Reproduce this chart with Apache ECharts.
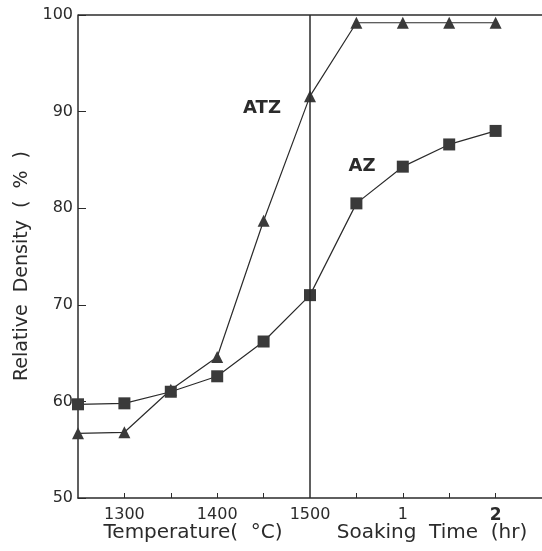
<!DOCTYPE html>
<html>
<head>
<meta charset="utf-8">
<script src="https://cdn.jsdelivr.net/npm/echarts@6/dist/echarts.min.js"></script>
<style>
  html, body { margin: 0; padding: 0; background: #fff; }
  #chart { width: 542px; height: 551px; }
</style>
</head>
<body>
<div id="chart"></div>
<script>
// x positions: 0..5 = 1250..1500 C, 6..9 = 0.5..2 hr soaking
const positions = [0, 1, 2, 3, 4, 5, 6, 7, 8, 9]
const atz = [56.7, 56.8, 61.2, 64.6, 78.7, 91.6, 99.2, 99.2, 99.2, 99.2]
const az = [59.7, 59.8, 61.0, 62.6, 66.2, 71.0, 80.5, 84.3, 86.6, 88.0]
const xTickLabels = { 1: '1300', 3: '1400', 5: '1500', 7: '1', 9: '{b|2}' }
const yTicks = [50, 60, 70, 80, 90, 100]

const ink = '#2b2b2b'
const font = 'DejaVu Sans'

const chart = echarts.init(document.getElementById('chart'))

const toPairs = (vals) => positions.map((p, i) => [p, vals[i]])

const option = {
  animation: false,
  grid: { left: 78, top: 15, right: -6, bottom: 53 },
  xAxis: {
    type: 'value',
    min: 0,
    max: 10,
    interval: 1,
    axisLine: { lineStyle: { color: ink, width: 1.5 } },
    axisTick: {
      inside: true,
      length: 5,
      lineStyle: { color: ink },
      customValues: [1, 2, 3, 4, 6, 7, 8, 9]
    },
    axisLabel: {
      color: ink,
      fontFamily: font,
      fontSize: 16,
      margin: 9,
      customValues: [1, 3, 5, 7, 9],
      formatter: (v) => xTickLabels[v] || '',
      rich: { b: { fontWeight: 'bold', fontSize: 17, fontFamily: font, color: ink } }
    },
    splitLine: { show: false }
  },
  yAxis: {
    type: 'value',
    min: yTicks[0],
    max: yTicks[yTicks.length - 1],
    interval: 10,
    axisLine: { show: true, lineStyle: { color: ink, width: 1.5 } },
    axisTick: { show: true, inside: true, length: 8, lineStyle: { color: ink } },
    axisLabel: { color: ink, fontFamily: font, fontSize: 16, margin: 5 },
    splitLine: { show: false }
  },
  graphic: [
    {
      type: 'text', x: 22, y: 266, rotation: Math.PI / 2,
      style: { text: 'Relative  Density  (  %  )', fill: ink, font: '19px ' + font, align: 'center', verticalAlign: 'middle' }
    },
    {
      type: 'text', x: 193, y: 533,
      style: { text: 'Temperature(  °C)', fill: ink, font: '20px ' + font, align: 'center', verticalAlign: 'middle' }
    },
    {
      type: 'text', x: 432, y: 533,
      style: { text: 'Soaking  Time  (hr)', fill: ink, font: '20px ' + font, align: 'center', verticalAlign: 'middle' }
    },
    {
      type: 'text', x: 262, y: 108,
      style: { text: 'ATZ', fill: ink, font: 'bold 18px ' + font, align: 'center', verticalAlign: 'middle' }
    },
    {
      type: 'text', x: 362, y: 166,
      style: { text: 'AZ', fill: ink, font: 'bold 18px ' + font, align: 'center', verticalAlign: 'middle' }
    }
  ],
  series: [
    {
      name: 'ATZ',
      type: 'line',
      data: toPairs(atz),
      symbol: 'triangle',
      symbolSize: 12,
      itemStyle: { color: '#3a3a3a' },
      lineStyle: { color: ink, width: 1.2 },
      z: 3,
      markLine: {
        silent: true,
        symbol: 'none',
        label: { show: false },
        lineStyle: { color: ink, width: 1.5, type: 'solid' },
        data: [{ xAxis: 5 }, { yAxis: 100 }]
      }
    },
    {
      name: 'AZ',
      type: 'line',
      data: toPairs(az),
      symbol: 'rect',
      symbolSize: 12,
      itemStyle: { color: '#3a3a3a' },
      lineStyle: { color: ink, width: 1.2 },
      z: 3
    }
  ]
}
chart.setOption(option)
</script>
</body>
</html>
